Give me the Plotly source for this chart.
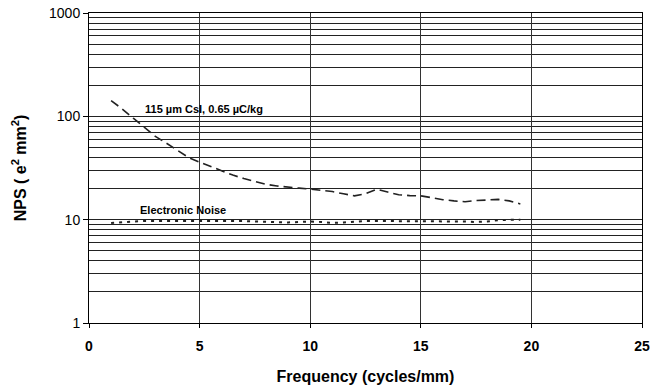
import plotly.graph_objects as go

freq = [1, 1.5, 2, 2.5, 3, 3.5, 4, 4.5, 5, 5.5, 6, 6.5, 7, 7.5, 8, 8.5, 9, 9.5, 10,
        10.5, 11, 11.5, 12, 12.5, 13, 13.5, 14, 14.5, 15, 15.5, 16, 16.5, 17, 17.5,
        18, 18.5, 19, 19.5]
csi_nps = [142, 118, 96, 78, 64, 55, 47, 40, 36, 32.6, 29.5, 27, 25, 23.3, 22, 21.2,
           20.6, 20.2, 19.8, 19.3, 18.7, 17.8, 17, 17.8, 19.7, 18.5, 17.4, 17.1, 17,
           16.3, 15.6, 15.2, 14.9, 15.3, 15.5, 15.7, 15.2, 14.2]
noise_nps = [9.3, 9.5, 9.6, 9.7, 9.7, 9.8, 9.8, 9.8, 9.8, 9.8, 9.8, 9.7, 9.7, 9.6,
             9.5, 9.4, 9.4, 9.5, 9.6, 9.5, 9.3, 9.4, 9.6, 9.7, 9.7, 9.7, 9.7, 9.6,
             9.7, 9.7, 9.6, 9.7, 9.6, 9.5, 9.6, 9.9, 10, 10]

x_ticks = [0, 5, 10, 15, 20, 25]
y_ticks = [1, 10, 100, 1000]
y_minor = [m * d for d in (1, 10, 100) for m in range(2, 10)]

fig = go.Figure()
fig.add_trace(go.Scatter(x=freq, y=csi_nps, mode="lines",
                         line=dict(color="#222", width=1.6, dash="9px,5px"),
                         showlegend=False))
fig.add_trace(go.Scatter(x=freq, y=noise_nps, mode="lines",
                         line=dict(color="#222", width=2, dash="3px,5px"),
                         showlegend=False))

fig.add_annotation(x=2.44, y=2.075, text="<b>115 µm CsI, 0.65 µC/kg</b>",
                   showarrow=False, xanchor="left", yanchor="middle",
                   font=dict(family="Liberation Sans, Arial", size=11, color="black"))
fig.add_annotation(x=2.2, y=1.094, text="<b>Electronic Noise</b>",
                   showarrow=False, xanchor="left", yanchor="middle",
                   font=dict(family="Liberation Sans, Arial", size=11, color="black"))

fig.update_layout(
    width=666, height=388,
    margin=dict(l=89, r=24, t=13, b=65),
    paper_bgcolor="white", plot_bgcolor="white",
    font=dict(family="Liberation Sans, Arial", color="black"),
    xaxis=dict(
        range=[0, 25], tickvals=x_ticks, ticks="outside", ticklen=4,
        tickcolor="black", showline=True, linecolor="black", linewidth=1,
        mirror=True, showgrid=True, gridcolor="#333", gridwidth=1,
        zeroline=False, ticklabelstandoff=6, automargin=False,
        tickfont=dict(size=14, family="Liberation Sans, Arial", weight="bold"),
        title=dict(text="<b>Frequency (cycles/mm)</b>", font=dict(size=16), standoff=18),
    ),
    yaxis=dict(
        type="log", range=[0, 3], tickvals=y_ticks, ticktext=[str(v) for v in y_ticks],
        ticks="outside", ticklen=5, tickcolor="black", automargin=False,
        showline=True, linecolor="black", linewidth=1, mirror=True,
        showgrid=True, gridcolor="#222", gridwidth=1, zeroline=False,
        minor=dict(tickvals=y_minor, showgrid=True, gridcolor="#222", gridwidth=1, ticks=""),
        tickfont=dict(size=14),
        title=dict(text="<b>NPS ( e<sup>2</sup> mm<sup>2</sup>)</b>", font=dict(size=16), standoff=18),
    ),
)

fig.write_html("out.html")
